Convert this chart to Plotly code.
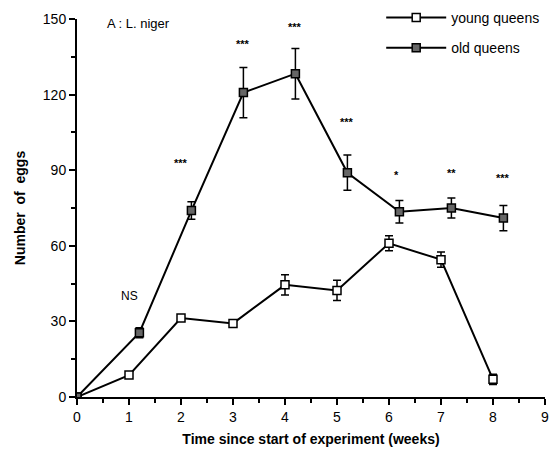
import plotly.graph_objects as go

weeks_young = [0, 1, 2, 3, 4, 5, 6, 7, 8]
young_eggs = [0, 8.7, 31.3, 29.2, 44.5, 42.3, 61, 54.5, 7]
young_err = [0, 0, 0, 0, 4, 4, 3, 3, 2]

weeks_old = [0, 1.2, 2.2, 3.2, 4.2, 5.2, 6.2, 7.2, 8.2]
old_eggs = [0, 25.5, 74, 120.8, 128.3, 89, 73.5, 75, 71]
old_err = [0, 2, 3.5, 10, 10, 7, 4.5, 4, 5]

sig_x = [1.0, 2.0, 3.2, 4.2, 5.2, 6.15, 7.2, 8.2]
sig_y = [40, 93, 140, 147, 109, 88, 89, 87]
sig_labels = ["NS", "***", "***", "***", "***", "*", "**", "***"]

fig = go.Figure()
fig.add_trace(go.Scatter(
    x=weeks_young, y=young_eggs, name="young queens", mode="lines+markers",
    legendgroup="y",
    line=dict(color="black", width=2),
    marker=dict(symbol="square", size=8, color="white", line=dict(color="black", width=1.5)),
    error_y=dict(type="data", array=young_err, color="black", thickness=1.5, width=4),
))
fig.add_trace(go.Scatter(
    x=weeks_old, y=old_eggs, name="old queens", mode="lines+markers",
    legendgroup="o",
    line=dict(color="black", width=2),
    marker=dict(symbol="square", size=8, color="#666666", line=dict(color="black", width=1.5)),
    error_y=dict(type="data", array=old_err, color="black", thickness=1.5, width=4),
))

for x, y, t in zip(sig_x, sig_y, sig_labels):
    fig.add_annotation(x=x, y=y, text=t if t == "NS" else "<b>" + t + "</b>", showarrow=False,
                       font=dict(size=12 if t == "NS" else 11, color="#000000", family="Liberation Sans"))

fig.add_annotation(x=0.06, y=1.012, xref="paper", yref="paper", text="A : L. niger",
                   showarrow=False, xanchor="left", yanchor="top",
                   font=dict(size=13, color="#000000", family="Liberation Sans"))

# page body has an 8px margin, so the figure is drawn 8px smaller and shifted
fig.update_layout(
    width=552, height=447,
    margin=dict(l=69, r=15, t=11, b=58, autoexpand=False),
    paper_bgcolor="white", plot_bgcolor="white",
    font=dict(family="Liberation Sans", color="black", size=13),
    legend=dict(x=0.65, y=1.045, xanchor="left", yanchor="top", bgcolor="rgba(0,0,0,0)",
                font=dict(size=14), tracegroupgap=9, itemwidth=60),
    showlegend=True,
)
fig.update_xaxes(range=[0, 9], tickmode="array", tickvals=list(range(10)), automargin=False,
                 showline=True, linecolor="black", linewidth=2, ticks="outside",
                 tickwidth=2, ticklen=6, tickcolor="black", showgrid=False, zeroline=False,
                 minor=dict(tickvals=[i + 0.5 for i in range(9)], ticks="outside", ticklen=4, tickwidth=1.5, tickcolor="black"),
                 title=dict(text="<b>Time since start of experiment (weeks)</b>", font=dict(size=14), standoff=10),
                 tickfont=dict(size=14, family="Liberation Sans"))
fig.update_yaxes(range=[0, 150], tickmode="array", tickvals=[0, 30, 60, 90, 120, 150], automargin=False,
                 showline=True, linecolor="black", linewidth=2, ticks="outside",
                 tickwidth=2, ticklen=6, tickcolor="black", showgrid=False, zeroline=False,
                 minor=dict(tickvals=[15, 45, 75, 105, 135], ticks="outside", ticklen=4, tickwidth=1.5, tickcolor="black"),
                 title=dict(text="<b>Number  of  eggs</b>", font=dict(size=14), standoff=14),
                 tickfont=dict(size=14, family="Liberation Sans"))

fig.write_html("out.html")
